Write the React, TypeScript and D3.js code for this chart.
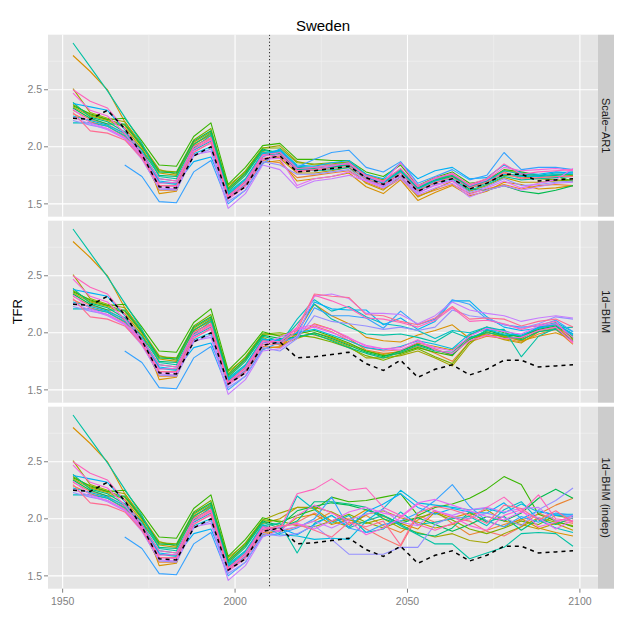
import React from 'react';
import * as d3 from 'd3';

const YEARS = [
  1953, 1958, 1963, 1968, 1973, 1978, 1983, 1988, 1993, 1998, 2003, 2008, 2013, 2018, 2023,
  2028, 2033, 2038, 2043, 2048, 2053, 2058, 2063, 2068, 2073, 2078, 2083, 2088, 2093, 2098,
];

// ggplot hue palette, 20 trajectories
const COLORS = [
  '#F8766D', '#EA8331', '#D89000', '#C09B00', '#A3A500', '#7CAE00', '#39B600', '#00BB4E',
  '#00BF7D', '#00C1A3', '#00BFC4', '#00BAE0', '#00B0F6', '#35A2FF', '#9590FF', '#C77CFF',
  '#E76BF3', '#FA62DB', '#FF62BC', '#FF6C91',
];

const X_TICKS = [1950, 2000, 2050, 2100];
const X_MINOR = [1975, 2025, 2075];
const Y_TICKS = [1.5, 2.0, 2.5];
const Y_MINOR = [1.75, 2.25, 2.75];
const START_YEAR = 2010;

const PANEL_LABELS = ['Scale\u2212AR1', '1d\u2212BHM', '1d\u2212BHM (indep)'];

// observed / reference series (black dashed)
const DASHED = [
  2.25, 2.24, 2.32, 2.16, 1.93, 1.65, 1.64, 1.92, 2.0, 1.55, 1.65, 1.89, 1.92, 1.78, 1.79,
  1.81, 1.83, 1.73, 1.67, 1.76, 1.61, 1.68, 1.72, 1.63, 1.68, 1.76, 1.76, 1.7, 1.71, 1.72,
];

// past estimates 1953-2008, same in all panels
const HIST: (number | null)[][] = [
  [2.32, 2.24, 2.2, 2.11, 1.93, 1.69, 1.68, 1.98, 2.07, 1.58, 1.69, 1.93],
  [2.29, 2.22, 2.18, 2.09, 1.91, 1.62, 1.62, 2.03, 2.1, 1.57, 1.67, 1.88],
  [2.8, 2.66, 2.5, 2.22, 2.0, 1.59, 1.61, 2.01, 2.08, 1.55, 1.66, 1.86],
  [2.35, 2.27, 2.23, 2.17, 1.98, 1.77, 1.75, 2.02, 2.11, 1.62, 1.76, 1.96],
  [2.51, 2.3, 2.25, 2.22, 2.02, 1.8, 1.76, 2.04, 2.13, 1.66, 1.78, 1.99],
  [2.37, 2.28, 2.24, 2.19, 2.0, 1.79, 1.78, 2.06, 2.16, 1.64, 1.79, 1.99],
  [2.36, 2.29, 2.24, 2.25, 2.05, 1.84, 1.83, 2.09, 2.21, 1.67, 1.82, 2.01],
  [2.34, 2.25, 2.2, 2.2, 2.01, 1.78, 1.77, 2.05, 2.14, 1.63, 1.77, 1.98],
  [2.39, 2.26, 2.22, 2.13, 1.97, 1.75, 1.74, 2.02, 2.12, 1.61, 1.75, 1.97],
  [2.91, 2.7, 2.49, 2.26, 2.03, 1.74, 1.72, 1.99, 2.1, 1.58, 1.7, 1.94],
  [2.21, 2.21, 2.18, 2.1, 1.95, 1.72, 1.7, 1.97, 2.05, 1.6, 1.72, 1.95],
  [2.27, 2.23, 2.19, 2.12, 1.94, 1.69, 1.67, 1.94, 2.0, 1.59, 1.71, 1.94],
  [2.38, 2.35, 2.32, 2.15, 1.95, 1.7, 1.68, 1.87, 1.91, 1.56, 1.67, 1.91],
  [null, null, null, 1.84, 1.74, 1.52, 1.51, 1.78, 1.88, 1.5, 1.62, 1.85],
  [2.23, 2.19, 2.16, 2.08, 1.9, 1.63, 1.62, 1.92, 1.98, 1.52, 1.62, 1.87],
  [2.26, 2.2, 2.15, 2.07, 1.89, 1.64, 1.63, 1.93, 1.96, 1.46, 1.59, 1.84],
  [2.33, 2.21, 2.16, 2.08, 1.92, 1.66, 1.65, 1.96, 2.03, 1.54, 1.65, 1.89],
  [2.47, 2.32, 2.27, 2.12, 1.92, 1.68, 1.69, 1.98, 2.06, 1.56, 1.68, 1.92],
  [2.5, 2.4, 2.34, 2.16, 1.94, 1.72, 1.7, 2.0, 2.08, 1.57, 1.7, 1.93],
  [2.3, 2.14, 2.12, 2.06, 1.9, 1.66, 1.66, 1.95, 2.04, 1.55, 1.66, 1.9],
];

// projections 2013-2098
const PROJ_AR1 = [
  [1.91, 1.8, 1.81, 1.82, 1.84, 1.71, 1.66, 1.79, 1.62, 1.68, 1.74, 1.65, 1.7, 1.78, 1.73, 1.72, 1.73, 1.75],
  [1.86, 1.73, 1.75, 1.77, 1.79, 1.69, 1.63, 1.72, 1.57, 1.62, 1.67, 1.59, 1.63, 1.67, 1.63, 1.66, 1.67, 1.66],
  [1.88, 1.7, 1.72, 1.74, 1.77, 1.65, 1.59, 1.71, 1.53, 1.6, 1.66, 1.57, 1.61, 1.69, 1.67, 1.63, 1.64, 1.66],
  [1.9, 1.77, 1.77, 1.79, 1.82, 1.68, 1.62, 1.74, 1.56, 1.63, 1.7, 1.61, 1.66, 1.73, 1.69, 1.69, 1.7, 1.71],
  [2.01, 1.87, 1.84, 1.85, 1.87, 1.76, 1.7, 1.8, 1.64, 1.71, 1.76, 1.66, 1.72, 1.79, 1.77, 1.74, 1.76, 1.75],
  [1.99, 1.86, 1.85, 1.86, 1.86, 1.75, 1.71, 1.8, 1.64, 1.7, 1.75, 1.65, 1.69, 1.75, 1.74, 1.72, 1.71, 1.7],
  [2.03, 1.89, 1.89, 1.88, 1.88, 1.78, 1.74, 1.84, 1.66, 1.73, 1.78, 1.68, 1.7, 1.8, 1.78, 1.75, 1.74, 1.7],
  [1.94, 1.8, 1.8, 1.82, 1.85, 1.73, 1.69, 1.78, 1.63, 1.7, 1.74, 1.63, 1.62, 1.66, 1.61, 1.59, 1.62, 1.66],
  [1.95, 1.82, 1.81, 1.82, 1.84, 1.74, 1.68, 1.79, 1.64, 1.71, 1.75, 1.64, 1.68, 1.76, 1.75, 1.74, 1.75, 1.76],
  [1.93, 1.8, 1.79, 1.8, 1.82, 1.72, 1.66, 1.77, 1.61, 1.69, 1.72, 1.62, 1.67, 1.74, 1.71, 1.72, 1.73, 1.74],
  [1.97, 1.83, 1.82, 1.84, 1.86, 1.74, 1.69, 1.8, 1.65, 1.72, 1.76, 1.66, 1.7, 1.79, 1.76, 1.75, 1.77, 1.78],
  [1.96, 1.81, 1.8, 1.83, 1.85, 1.73, 1.68, 1.78, 1.63, 1.7, 1.73, 1.65, 1.71, 1.76, 1.74, 1.74, 1.76, 1.77],
  [1.98, 1.84, 1.83, 1.86, 1.88, 1.76, 1.72, 1.86, 1.72, 1.79, 1.82, 1.72, 1.73, 1.84, 1.77, 1.76, 1.78, 1.77],
  [1.96, 1.82, 1.89, 1.95, 1.97, 1.82, 1.78, 1.87, 1.68, 1.74, 1.8, 1.71, 1.75, 1.95, 1.8, 1.82, 1.82, 1.8],
  [1.84, 1.76, 1.76, 1.78, 1.8, 1.71, 1.65, 1.74, 1.59, 1.67, 1.71, 1.6, 1.65, 1.72, 1.66, 1.67, 1.69, 1.7],
  [1.8, 1.64, 1.7, 1.72, 1.75, 1.7, 1.64, 1.72, 1.58, 1.64, 1.68, 1.56, 1.62, 1.66, 1.62, 1.65, 1.68, 1.69],
  [1.9, 1.66, 1.72, 1.74, 1.78, 1.7, 1.66, 1.75, 1.6, 1.66, 1.7, 1.58, 1.64, 1.7, 1.64, 1.68, 1.71, 1.81],
  [1.93, 1.79, 1.8, 1.83, 1.86, 1.74, 1.69, 1.86, 1.66, 1.72, 1.77, 1.66, 1.71, 1.82, 1.79, 1.8, 1.81, 1.79],
  [1.95, 1.81, 1.82, 1.84, 1.85, 1.75, 1.7, 1.81, 1.65, 1.73, 1.76, 1.67, 1.72, 1.85, 1.76, 1.78, 1.79, 1.8],
  [1.92, 1.78, 1.8, 1.81, 1.83, 1.72, 1.67, 1.77, 1.62, 1.69, 1.73, 1.64, 1.69, 1.77, 1.72, 1.73, 1.74, 1.74],
];

const PROJ_BHM = [
  [1.9, 1.99, 2.06, 2.01, 1.93, 1.87, 1.84, 1.85, 1.9, 1.86, 1.8, 1.95, 2.0, 1.97, 1.95, 2.03, 2.06, 1.92],
  [1.87, 1.97, 2.08, 2.03, 1.95, 1.85, 1.82, 1.83, 1.88, 1.82, 1.75, 1.92, 1.97, 1.95, 1.92, 1.99, 2.03, 1.9],
  [1.88, 2.0, 2.25, 2.15, 2.08, 1.96, 1.93, 1.92, 1.98, 2.02, 2.07, 1.95, 1.98, 1.97, 1.93, 1.97, 2.0, 1.94],
  [1.89, 1.95, 2.0, 1.96, 1.9, 1.84, 1.81, 1.84, 1.91, 1.88, 1.85, 1.96, 1.99, 1.94, 1.91, 2.01, 2.04, 1.94],
  [1.98, 2.02, 1.98, 1.94, 1.88, 1.78, 1.78, 1.8, 1.84, 1.78, 1.71, 1.9, 2.03, 1.97, 1.93, 2.02, 2.05, 1.96],
  [2.0, 1.98, 1.96, 1.92, 1.87, 1.8, 1.76, 1.81, 1.86, 1.79, 1.73, 1.92, 2.01, 1.96, 1.95, 2.04, 2.07, 1.99],
  [1.97, 1.99, 2.02, 1.97, 1.91, 1.84, 1.8, 1.82, 1.87, 1.83, 1.8, 1.98, 2.05, 2.0, 1.96, 2.05, 2.08, 1.95],
  [1.95, 1.96, 2.0, 1.95, 1.89, 1.83, 1.79, 1.84, 1.9, 1.85, 1.81, 1.94, 2.02, 1.98, 1.97, 2.03, 2.06, 1.97],
  [1.93, 1.97, 1.99, 1.93, 1.87, 1.82, 1.78, 1.83, 1.89, 1.84, 1.83, 1.96, 2.0, 1.98, 1.94, 2.01, 2.03, 1.93],
  [1.91, 2.08, 2.25, 2.12, 2.05, 1.99, 1.98, 1.99, 1.96, 1.92, 2.01, 1.95, 2.02, 2.03, 1.79, 1.97, 2.04, 2.05],
  [1.9, 2.12, 2.29, 2.19, 2.23, 2.14, 2.08, 2.06, 2.02, 1.95, 2.02, 2.0, 2.05, 2.02, 1.97, 2.05, 2.09, 2.01],
  [1.94, 2.0, 2.03, 1.98, 1.93, 1.87, 1.85, 1.88, 1.93, 1.9, 1.86, 1.99, 2.03, 1.99, 1.98, 2.04, 2.07, 1.98],
  [1.94, 2.0, 2.27, 2.21, 2.2, 2.2, 2.07, 2.13, 2.03, 2.1, 2.28, 2.28, 2.14, 2.05, 2.02, 2.04, 2.08, 1.99],
  [1.92, 1.96, 2.22, 2.15, 2.15, 2.13, 2.04, 2.19, 2.07, 2.12, 2.29, 2.25, 2.12, 2.07, 2.05, 2.06, 2.11, 2.01],
  [1.84, 1.95, 2.15, 2.1, 2.08, 2.06, 2.03, 2.05, 2.02, 2.05, 2.2, 2.15, 2.13, 2.07, 2.04, 2.08, 2.14, 2.12],
  [1.86, 1.97, 2.32, 2.34, 2.3, 2.17, 2.17, 2.16, 2.08, 2.15, 2.27, 2.2, 2.17, 2.15, 2.1, 2.13, 2.15, 2.13],
  [1.96, 2.03, 2.05, 2.0, 1.95, 1.89, 1.86, 1.85, 1.92, 1.87, 1.84, 1.97, 2.04, 2.01, 1.99, 2.06, 2.08, 1.96],
  [1.92, 2.04, 2.07, 2.03, 1.96, 1.88, 1.86, 1.87, 1.94, 1.85, 1.82, 1.93, 1.98, 1.95, 1.96, 2.02, 2.05, 1.91],
  [1.92, 2.05, 2.33, 2.28, 2.22, 2.13, 2.12, 2.09, 2.05, 2.11, 2.22, 2.1, 2.11, 2.08, 2.03, 2.07, 2.1, 1.92],
  [1.9, 2.02, 2.34, 2.32, 2.31, 2.16, 2.15, 2.1, 2.07, 2.13, 2.23, 2.12, 2.13, 2.12, 2.06, 2.1, 2.12, 2.05],
];

const PROJ_INDEP = [
  [1.92, 1.97, 2.05, 1.98, 2.0, 1.91, 1.83, 1.76, 2.03, 1.97, 2.01, 1.98, 1.89, 1.85, 1.93, 2.05, 1.99, 1.96],
  [1.89, 1.93, 1.98, 2.06, 1.95, 2.03, 1.94, 1.88, 1.99, 2.07, 1.96, 1.86, 1.9, 1.95, 1.99, 2.04, 2.12, 2.18],
  [1.9, 2.01, 2.04, 1.95, 1.99, 2.08, 2.02, 1.96, 1.91, 2.06, 2.01, 2.05, 1.98, 1.93, 2.0, 1.92, 1.88, 1.85],
  [2.0, 2.1, 2.09, 1.98, 1.93, 2.04, 2.07, 2.01, 1.97, 1.92, 1.95, 2.03, 2.08, 1.98, 1.95, 1.91, 1.96, 1.9],
  [2.05, 2.1, 2.1, 2.06, 1.99, 1.96, 2.0, 1.92, 1.88, 1.84, 1.87, 1.81, 1.79, 1.87, 1.93, 2.01, 1.97, 1.94],
  [1.98, 1.94, 1.93, 1.98, 2.04, 1.97, 1.92, 1.98, 2.01, 2.05, 1.99, 1.91, 1.87, 1.92, 1.98, 1.95, 2.03, 2.0],
  [1.97, 2.03, 2.08, 2.19, 2.15, 2.16, 2.19, 2.22, 2.03, 2.1, 2.13, 2.18, 2.26, 2.37, 2.3, 2.04, 1.98, 1.93],
  [1.94, 2.07, 2.11, 2.14, 2.12, 2.08, 2.03, 1.96, 2.01, 1.95, 1.89, 1.95, 2.02, 1.98, 2.05, 2.18, 2.26, 2.18],
  [1.92, 1.98, 2.15, 2.15, 2.13, 2.1, 2.0, 1.95, 1.87, 1.85, 1.92, 2.06, 1.97, 2.02, 1.9, 2.0, 1.95, 2.01],
  [1.96, 1.7, 1.96, 2.03, 1.92, 1.98, 2.03, 1.94, 1.86, 1.78, 1.78, 1.65, 1.7, 1.75, 1.87, 1.88, 1.87, 1.76],
  [1.88, 2.2, 2.08, 1.96, 2.03, 1.88, 1.91, 2.06, 1.95, 1.97, 2.0, 2.02, 1.94, 2.08, 2.15, 1.99, 1.92, 1.88],
  [1.86, 1.85, 1.82, 1.83, 1.82, 1.98, 2.09, 2.25, 2.14, 2.12, 2.1, 2.08, 2.09, 2.05, 2.13, 2.06, 2.04, 2.04],
  [1.92, 1.86, 1.95, 2.03, 1.93, 2.06, 2.13, 2.22, 2.1, 2.04, 2.09, 2.06, 2.05, 2.14, 2.0, 2.07, 2.03, 2.02],
  [1.87, 1.92, 2.0, 2.19, 1.92, 1.88, 1.95, 1.98, 2.05, 2.16, 2.3, 2.11, 1.98, 1.93, 2.02, 1.97, 2.05, 2.03],
  [1.85, 1.87, 1.94, 1.82, 1.69, 1.69, 1.69, 1.75, 1.75, 1.95, 2.02, 2.0, 2.05, 2.01, 1.94, 2.08, 2.16, 2.27],
  [1.9, 1.93, 1.98, 1.92, 1.99, 2.04, 2.08, 1.97, 1.94, 2.07, 2.03, 2.08, 2.1, 2.06, 2.09, 2.1, 1.98, 2.01],
  [1.93, 1.96, 1.91, 1.98, 2.06, 2.1, 2.05, 2.02, 2.14, 2.17, 2.12, 2.07, 2.02, 1.99, 2.06, 2.01, 1.91, 1.99],
  [1.89, 2.03, 2.12, 2.05, 1.98, 1.86, 1.92, 2.01, 2.13, 2.07, 2.02, 1.94, 1.9, 2.03, 2.08, 1.93, 1.97, 2.03],
  [1.91, 2.22, 2.26, 2.35, 2.25, 2.27, 2.1, 2.03, 1.95, 1.9, 1.96, 2.0, 2.1, 2.19, 2.06, 2.21, 2.0, 1.98],
  [1.94, 1.95, 1.9, 1.84, 1.97, 1.93, 1.98, 1.77, 2.05, 2.11, 2.08, 2.03, 1.96, 2.12, 2.09, 1.99, 2.07, 1.97],
];

const PROJECTIONS = [PROJ_AR1, PROJ_BHM, PROJ_INDEP];

const FONT = '"Liberation Sans", Arial, Helvetica, sans-serif';

// ggplot-style 5% expansion
const expand = ([lo, hi]: [number, number]): [number, number] => {
  const pad = (hi - lo) * 0.05;
  return [lo - pad, hi + pad];
};

export default function App() {
  const width = 630;
  const height = 630;
  const left = 48;
  const right = 598;
  const stripW = 16;
  const panelH = 182;
  const panelGap = 4;
  const top = 34.7;

  const x = d3.scaleLinear()
    .domain(expand(d3.extent(YEARS) as [number, number]))
    .range([left, right]);

  const allValues: number[] = [...DASHED];
  HIST.forEach(h => h.forEach(v => { if (v != null) allValues.push(v); }));
  PROJECTIONS.forEach(p => p.forEach(s => allValues.push(...s)));
  const yDomain = expand(d3.extent(allValues) as [number, number]);

  const line = d3.line<number | null>()
    .defined(d => d != null)
    .x((_, i) => x(YEARS[i]))
    .y(d => d as number);

  return (
    <svg width={width} height={height} style={{ position: 'absolute', left: 0, top: 0, background: '#fff' }}>
      <text x={(left + right) / 2} y={31} textAnchor="middle" fontFamily={FONT} fontSize={15} fill="#000">
        Sweden
      </text>
      <text
        transform={`translate(22,${top + (3 * panelH + 2 * panelGap) / 2}) rotate(-90)`}
        textAnchor="middle"
        fontFamily={FONT}
        fontSize={13}
        fill="#000"
      >
        TFR
      </text>

      {PROJECTIONS.map((proj, p) => {
        const y0 = top + p * (panelH + panelGap);
        const y = d3.scaleLinear().domain(yDomain).range([y0 + panelH, y0]);
        const path = (vals: (number | null)[]) =>
          line(vals.map(v => (v == null ? null : y(v)))) || '';
        const clipId = `clip${p}`;
        return (
          <g key={p}>
            <defs>
              <clipPath id={clipId}>
                <rect x={left} y={y0} width={right - left} height={panelH} />
              </clipPath>
            </defs>
            <rect x={left} y={y0} width={right - left} height={panelH} fill="#E5E5E5" />
            {X_MINOR.map(t => (
              <line key={`xm${t}`} x1={x(t)} x2={x(t)} y1={y0} y2={y0 + panelH} stroke="#F2F2F2" strokeWidth={0.6} />
            ))}
            {Y_MINOR.map(t => (
              <line key={`ym${t}`} x1={left} x2={right} y1={y(t)} y2={y(t)} stroke="#F2F2F2" strokeWidth={0.6} />
            ))}
            {X_TICKS.map(t => (
              <line key={`xg${t}`} x1={x(t)} x2={x(t)} y1={y0} y2={y0 + panelH} stroke="#fff" strokeWidth={1.1} />
            ))}
            {Y_TICKS.map(t => (
              <line key={`yg${t}`} x1={left} x2={right} y1={y(t)} y2={y(t)} stroke="#fff" strokeWidth={1.1} />
            ))}

            <g clipPath={`url(#${clipId})`}>
              {HIST.map((h, i) => (
                <path
                  key={i}
                  d={path([...h, ...proj[i]])}
                  fill="none"
                  stroke={COLORS[i]}
                  strokeWidth={1.1}
                  strokeLinejoin="round"
                />
              ))}
              <path d={path(DASHED)} fill="none" stroke="#000" strokeWidth={1.5} strokeDasharray="4,4" />
              <line
                x1={x(START_YEAR)}
                x2={x(START_YEAR)}
                y1={y0}
                y2={y0 + panelH}
                stroke="#000"
                strokeWidth={1}
                strokeDasharray="1,2.5"
              />
            </g>

            {/* y axis */}
            {Y_TICKS.map(t => (
              <g key={`yt${t}`}>
                <line x1={left - 4} x2={left} y1={y(t)} y2={y(t)} stroke="#7F7F7F" strokeWidth={1} />
                <text
                  x={left - 6}
                  y={y(t)}
                  dy="0.35em"
                  textAnchor="end"
                  fontFamily={FONT}
                  fontSize={10.5}
                  fill="#7F7F7F"
                >
                  {t.toFixed(1)}
                </text>
              </g>
            ))}

            {/* strip */}
            <rect x={right} y={y0} width={stripW} height={panelH} fill="#CCCCCC" />
            <text
              transform={`translate(${right + stripW / 2},${y0 + panelH / 2}) rotate(90)`}
              textAnchor="middle"
              dy="0.35em"
              fontFamily={FONT}
              fontSize={11}
              fill="#1A1A1A"
            >
              {PANEL_LABELS[p]}
            </text>
          </g>
        );
      })}

      {/* x axis */}
      {X_TICKS.map(t => {
        const yb = top + 3 * panelH + 2 * panelGap;
        return (
          <g key={`xt${t}`}>
            <line x1={x(t)} x2={x(t)} y1={yb} y2={yb + 4} stroke="#7F7F7F" strokeWidth={1} />
            <text x={x(t)} y={yb + 16} textAnchor="middle" fontFamily={FONT} fontSize={10.5} fill="#7F7F7F">
              {t}
            </text>
          </g>
        );
      })}
    </svg>
  );
}
